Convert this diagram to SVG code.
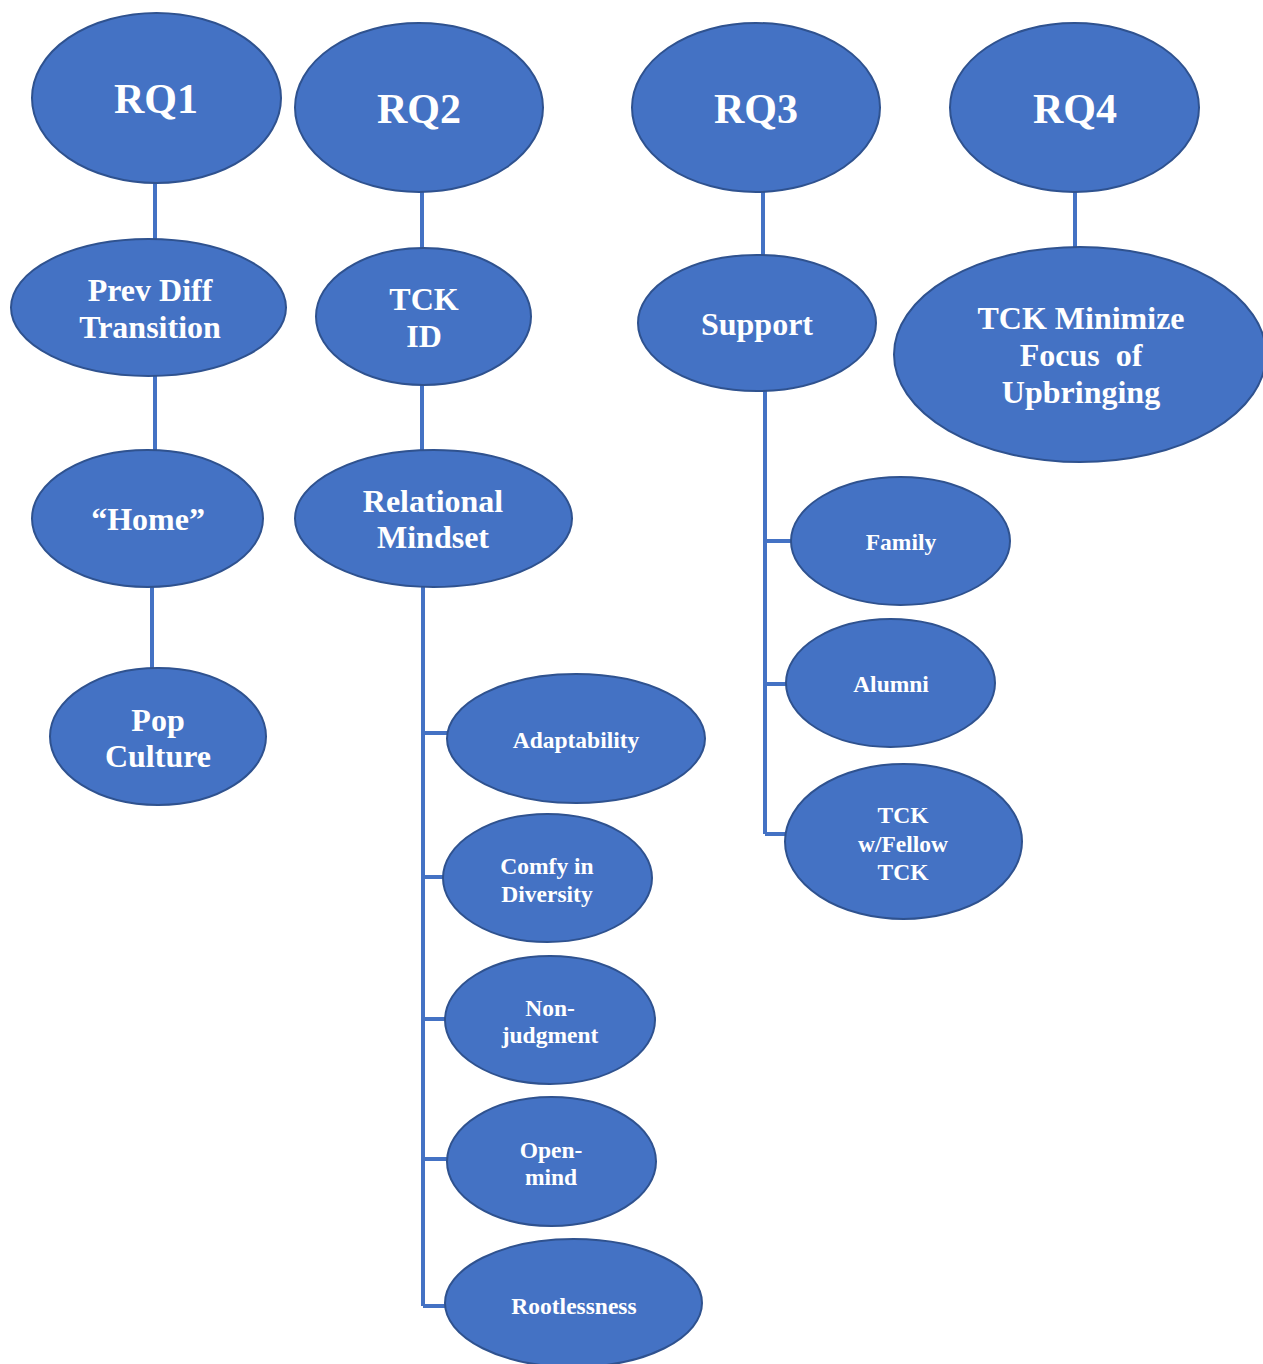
<svg xmlns="http://www.w3.org/2000/svg" width="1263" height="1364" viewBox="0 0 1263 1364">
<style>
.n ellipse{fill:#4472C4;stroke:#2F528F;stroke-width:2}
.n text{fill:#fff;font-family:"Liberation Serif","Times New Roman",serif;font-weight:bold;text-anchor:middle}
.rq{font-size:42px}
.m{font-size:32px}
.s{font-size:23.5px}
#edges path{fill:none;stroke:#4472C4;stroke-width:4}
</style>
<rect width="1263" height="1364" fill="#fff"/>
<g id="edges">
<path d="M155 183V239M155 376V450M152 587V668"/>
<path d="M422 192V248M422 385V450"/>
<path d="M423 587V1306M423 733H448M423 877H444M423 1019H446M423 1159H448M423 1306H446"/>
<path d="M763 192V255M765 391V834M765 541H792M765 684H787M765 834H786"/>
<path d="M1075 192V247"/>
</g>
<g id="rq1" class="n"><ellipse cx="156.5" cy="98" rx="124.5" ry="85"/><text class="rq" x="156" y="113">RQ1</text></g>
<g id="rq2" class="n"><ellipse cx="419" cy="107.5" rx="124" ry="84.5"/><text class="rq" x="419" y="123">RQ2</text></g>
<g id="rq3" class="n"><ellipse cx="756" cy="107.5" rx="124" ry="84.5"/><text class="rq" x="756" y="123">RQ3</text></g>
<g id="rq4" class="n"><ellipse cx="1074.5" cy="107.5" rx="124.5" ry="84.5"/><text class="rq" x="1075" y="123">RQ4</text></g>
<g id="prevdiff" class="n"><ellipse cx="148.5" cy="307.5" rx="137.5" ry="68.5"/><text class="m" x="150" y="301">Prev Diff</text><text class="m" x="150" y="338">Transition</text></g>
<g id="tckid" class="n"><ellipse cx="423.5" cy="316.5" rx="107.5" ry="68.5"/><text class="m" x="424" y="310">TCK</text><text class="m" x="424" y="347">ID</text></g>
<g id="support" class="n"><ellipse cx="757" cy="323" rx="119" ry="68"/><text class="m" x="757" y="335">Support</text></g>
<g id="minimize" class="n"><ellipse cx="1080" cy="354.5" rx="186" ry="107.5"/><text class="m" x="1081" y="329">TCK Minimize</text><text class="m" x="1081" y="366" xml:space="preserve">Focus  of</text><text class="m" x="1081" y="403">Upbringing</text></g>
<g id="home" class="n"><ellipse cx="147.5" cy="518.5" rx="115.5" ry="68.5"/><text class="m" x="148" y="530">“Home”</text></g>
<g id="relational" class="n"><ellipse cx="433.5" cy="518.5" rx="138.5" ry="68.5"/><text class="m" x="433" y="512">Relational</text><text class="m" x="433" y="548">Mindset</text></g>
<g id="popculture" class="n"><ellipse cx="158" cy="736.5" rx="108" ry="68.5"/><text class="m" x="158" y="731">Pop</text><text class="m" x="158" y="767">Culture</text></g>
<g id="family" class="n"><ellipse cx="900.5" cy="541" rx="109.5" ry="64"/><text class="s" x="901" y="550">Family</text></g>
<g id="alumni" class="n"><ellipse cx="890.5" cy="683" rx="104.5" ry="64"/><text class="s" x="891" y="692">Alumni</text></g>
<g id="fellow" class="n"><ellipse cx="903.5" cy="841.5" rx="118.5" ry="77.5"/><text class="s" x="903" y="823">TCK</text><text class="s" x="903" y="852">w/Fellow</text><text class="s" x="903" y="880">TCK</text></g>
<g id="adaptability" class="n"><ellipse cx="576" cy="738.5" rx="129" ry="64.5"/><text class="s" x="576" y="748">Adaptability</text></g>
<g id="comfy" class="n"><ellipse cx="547.5" cy="878" rx="104.5" ry="64"/><text class="s" x="547" y="874">Comfy in</text><text class="s" x="547" y="902">Diversity</text></g>
<g id="nonjudgment" class="n"><ellipse cx="550" cy="1020" rx="105" ry="64"/><text class="s" x="550" y="1016">Non-</text><text class="s" x="550" y="1043">judgment</text></g>
<g id="openmind" class="n"><ellipse cx="551.5" cy="1161.5" rx="104.5" ry="64.5"/><text class="s" x="551" y="1158">Open-</text><text class="s" x="551" y="1185">mind</text></g>
<g id="rootlessness" class="n"><ellipse cx="573.5" cy="1303" rx="128.5" ry="64"/><text class="s" x="574" y="1314">Rootlessness</text></g>
</svg>
